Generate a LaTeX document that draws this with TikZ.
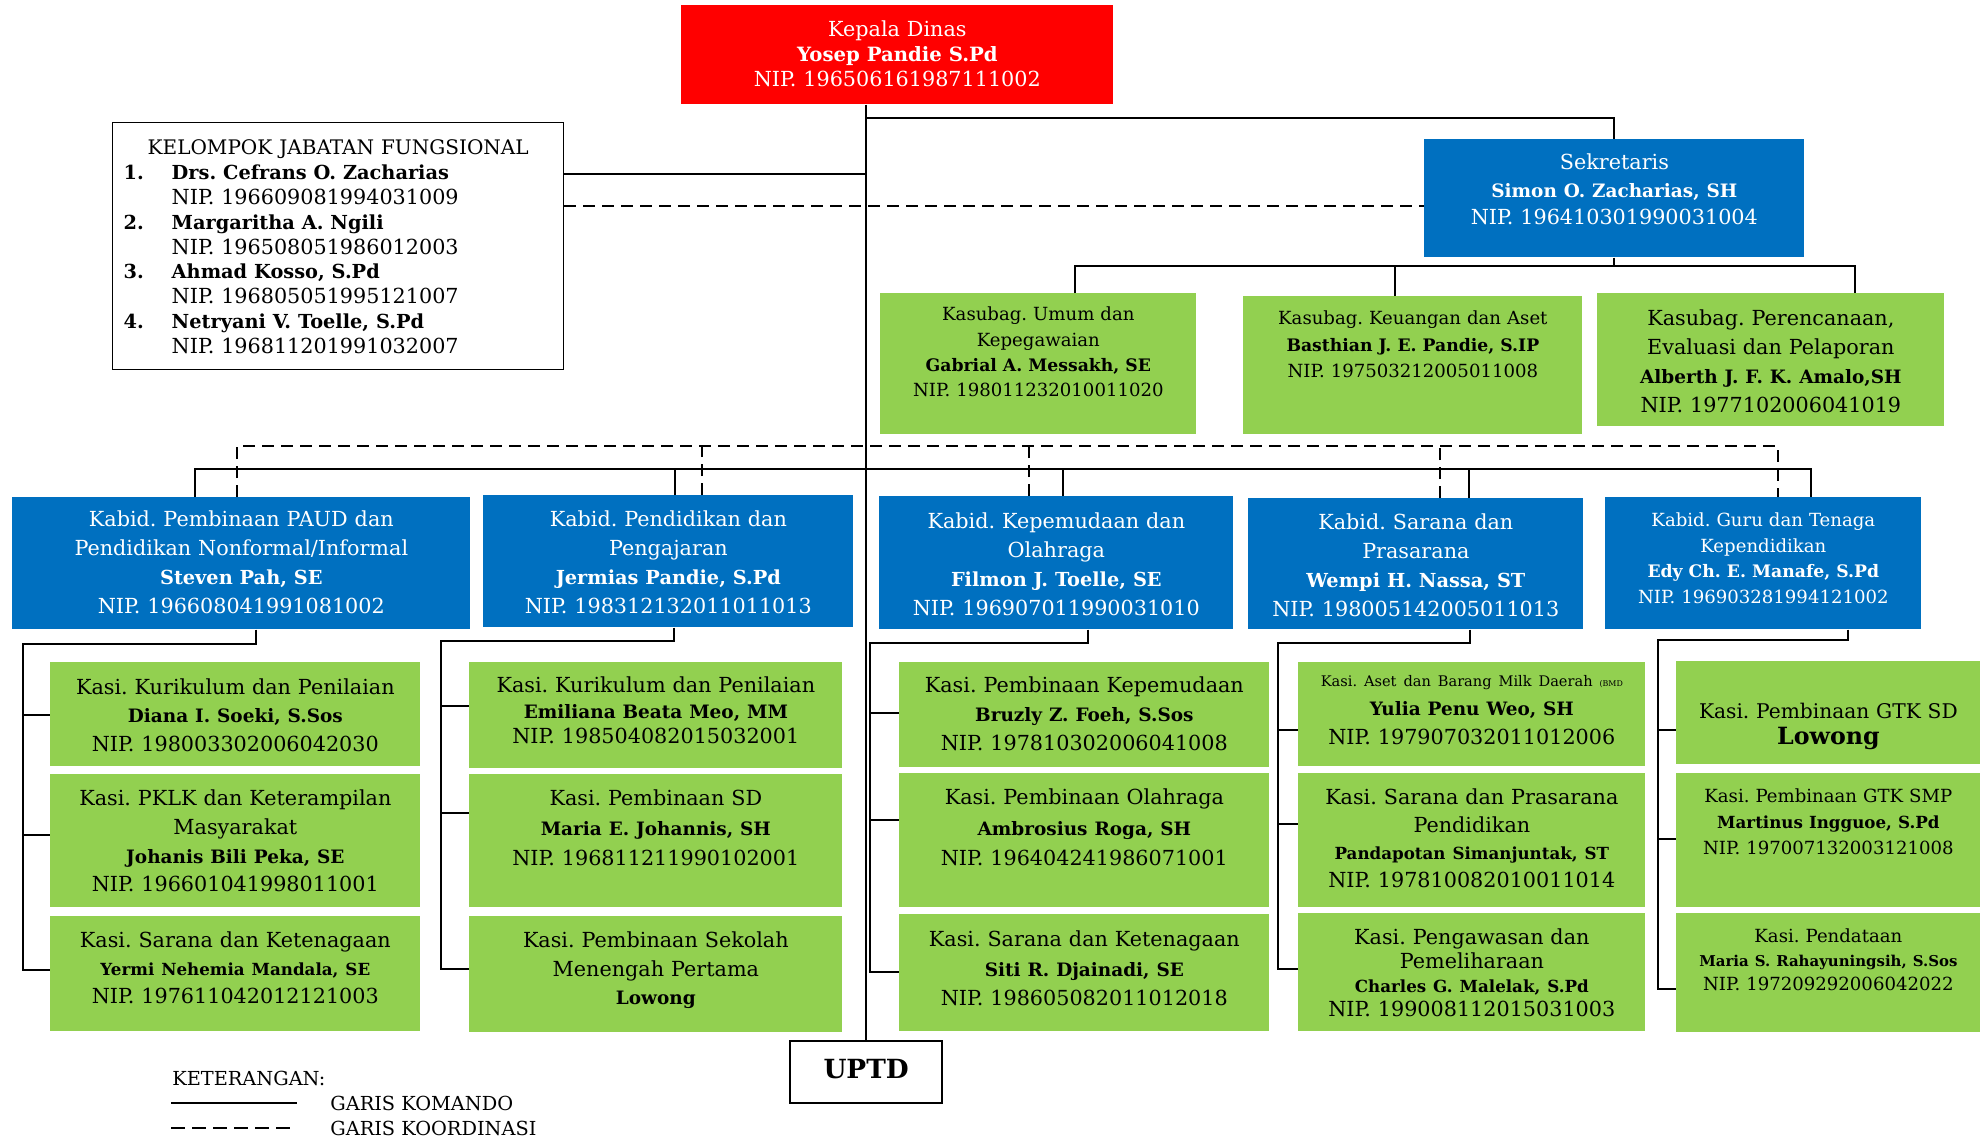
\documentclass[tikz,border=0pt]{standalone}
\usepackage{fontspec}
\setmainfont{DejaVu Serif}
\frenchspacing

\definecolor{merah}{HTML}{FF0000}
\definecolor{biru}{HTML}{0070C0}
\definecolor{hijau}{HTML}{92D050}

\newcommand{\fsz}[2]{\fontsize{#1}{#2}\selectfont}
\newcommand{\nama}[1]{{\fontsize{10.5}{10}\bfseries\selectfont #1}}
\newcommand{\namasz}[2]{{\fontsize{#1}{10}\bfseries\selectfont #2}}

\tikzset{
  orgbox/.style={rectangle, inner sep=0pt, anchor=north west, align=center},
  boxdim/.style n args={3}{text width=#1, text height=#2, text depth=#3},
  kepalabox/.style={orgbox, fill=merah, text=white, font=\fsz{11.8}{14.2}},
  kabidbox/.style={orgbox, fill=biru, text=white, font=\fsz{11.8}{16.5}},
  kasibox/.style={orgbox, fill=hijau, font=\fsz{11.8}{16.2}},
  fungsibox/.style={orgbox, draw, line width=0.8pt, font=\fsz{11.8}{14.2}, align=left, inner xsep=2.2mm},
  legendtext/.style={anchor=west, inner sep=0pt, font=\fsz{11}{14}},
  komando/.style={line width=1.1pt},
  koordinasi/.style={line width=1.1pt, dash pattern=on 2.4mm off 1.4mm},
}

\begin{document}
\begin{tikzpicture}[x=0.2mm, y=-0.2mm]
    \useasboundingbox (0,0) rectangle (1986,1139);

    % PIMPINAN
    \node[kepalabox, boxdim={86.4mm}{6.3mm}{13.5mm}] (kepala) at (681,5) {Kepala Dinas\\ \namasz{11.2}{Yosep Pandie S.Pd}\\ NIP. 196506161987111002};
    \node[fungsibox, boxdim={85.8mm}{6.3mm}{43.1mm}] (fungsional) at (112,122) {\makebox[85.8mm][c]{\fsz{11.4}{14.2}KELOMPOK JABATAN FUNGSIONAL}\\
        \makebox[9.6mm][l]{\namasz{11}{1.}}\namasz{11}{Drs. Cefrans O. Zacharias}\\
        \hspace*{9.6mm}NIP. 196609081994031009\\
        \makebox[9.6mm][l]{\namasz{11}{2.}}\namasz{11}{Margaritha A. Ngili}\\
        \hspace*{9.6mm}NIP. 196508051986012003\\
        \makebox[9.6mm][l]{\namasz{11}{3.}}\namasz{11}{Ahmad Kosso, S.Pd}\\
        \hspace*{9.6mm}NIP. 196805051995121007\\
        \makebox[9.6mm][l]{\namasz{11}{4.}}\namasz{11}{Netryani V. Toelle, S.Pd}\\
        \hspace*{9.6mm}NIP. 196811201991032007};
    \node[kabidbox, boxdim={76mm}{6.1mm}{17.5mm}, font=\fsz{11.8}{15.5}] (sekretaris) at (1424,139) {Sekretaris\\ \nama{Simon O. Zacharias, SH}\\ NIP. 196410301990031004};

    % SUBBAGIAN
    \node[kasibox, boxdim={63.2mm}{5.5mm}{22.7mm}, font=\fsz{10.3}{14.4}] (umum) at (880,293) {Kasubag. Umum dan\\ Kepegawaian\\ \namasz{9.8}{Gabrial A. Messakh, SE}\\ NIP. 198011232010011020};
    \node[kasibox, boxdim={67.8mm}{5.7mm}{21.9mm}, font=\fsz{10.3}{15.1}] (keuangan) at (1243,296) {Kasubag. Keuangan dan Aset\\ \namasz{9.8}{Basthian J. E. Pandie, S.IP}\\ NIP. 197503212005011008};
    \node[kasibox, boxdim={69.4mm}{6.5mm}{20.1mm}, font=\fsz{11.8}{16.5}] (perencanaan) at (1597,293) {Kasubag. Perencanaan,\\ Evaluasi dan Pelaporan\\ \nama{Alberth J. F. K. Amalo,SH}\\ NIP. 1977102006041019};

    % BIDANG
    \node[kabidbox, boxdim={91.6mm}{5.9mm}{20.5mm}] (paud) at (12,497) {Kabid. Pembinaan PAUD dan\\ Pendidikan Nonformal/Informal\\ \namasz{11}{Steven Pah, SE}\\ NIP. 196608041991081002};
    \node[kabidbox, boxdim={74mm}{6.3mm}{20.1mm}] (dikjar) at (483,495) {Kabid. Pendidikan dan\\ Pengajaran\\ \namasz{11}{Jermias Pandie, S.Pd}\\ NIP. 198312132011011013};
    \node[kabidbox, boxdim={70.8mm}{6.4mm}{20.2mm}] (pora) at (879,496) {Kabid. Kepemudaan dan\\ Olahraga\\ \namasz{11}{Filmon J. Toelle, SE}\\ NIP. 196907011990031010};
    \node[kabidbox, boxdim={67mm}{6.3mm}{19.9mm}] (sarpras) at (1248,498) {Kabid. Sarana dan\\ Prasarana\\ \namasz{11}{Wempi H. Nassa, ST}\\ NIP. 198005142005011013};
    \node[kabidbox, boxdim={63.2mm}{5.8mm}{20.6mm}, font=\fsz{10.3}{14.6}] (gtk) at (1605,497) {Kabid. Guru dan Tenaga\\ Kependidikan\\ \namasz{9.8}{Edy Ch. E. Manafe, S.Pd}\\ NIP. 196903281994121002};

    % SEKSI PAUD
    \node[kasibox, boxdim={74mm}{6.4mm}{14.4mm}] (paud1) at (50,662) {Kasi. Kurikulum dan Penilaian\\ \nama{Diana I. Soeki, S.Sos}\\ NIP. 198003302006042030};
    \node[kasibox, boxdim={74mm}{6.3mm}{20.3mm}, font=\fsz{11.8}{16.3}] (paud2) at (50,774) {Kasi. PKLK dan Keterampilan\\ Masyarakat\\ \nama{Johanis Bili Peka, SE}\\ NIP. 196601041998011001};
    \node[kasibox, boxdim={74mm}{6.3mm}{16.7mm}, font=\fsz{11.8}{15.8}] (paud3) at (50,916) {Kasi. Sarana dan Ketenagaan\\ \namasz{9.5}{Yermi Nehemia Mandala, SE}\\ NIP. 197611042012121003};

    % SEKSI DIKJAR
    \node[kasibox, boxdim={74.6mm}{6.1mm}{15.1mm}, font=\fsz{11.8}{14.4}] (dikjar1) at (469,662) {Kasi. Kurikulum dan Penilaian\\ \nama{Emiliana Beata Meo, MM}\\ NIP. 198504082015032001};
    \node[kasibox, boxdim={74.6mm}{6.3mm}{20.3mm}, font=\fsz{11.8}{16.9}] (dikjar2) at (469,774) {Kasi. Pembinaan SD\\ \nama{Maria E. Johannis, SH}\\ NIP. 196811211990102001};
    \node[kasibox, boxdim={74.6mm}{6.3mm}{16.9mm}] (dikjar3) at (469,916) {Kasi. Pembinaan Sekolah\\ Menengah Pertama\\ \nama{Lowong}};

    % SEKSI PORA
    \node[kasibox, boxdim={74mm}{6.1mm}{14.9mm}, font=\fsz{11.8}{16.5}] (pora1) at (899,662) {Kasi. Pembinaan Kepemudaan\\ \nama{Bruzly Z. Foeh, S.Sos}\\ NIP. 197810302006041008};
    \node[kasibox, boxdim={74mm}{6.3mm}{20.5mm}, font=\fsz{11.8}{17.2}] (pora2) at (899,773) {Kasi. Pembinaan Olahraga\\ \nama{Ambrosius Roga, SH}\\ NIP. 196404241986071001};
    \node[kasibox, boxdim={74mm}{6.4mm}{17mm}, font=\fsz{11.8}{16.9}] (pora3) at (899,914) {Kasi. Sarana dan Ketenagaan\\ \nama{Siti R. Djainadi, SE}\\ NIP. 198605082011012018};

    % SEKSI SARPRAS
    \node[kasibox, boxdim={69.4mm}{4.9mm}{15.9mm}, font=\fsz{11.8}{16.5}] (sarpras1) at (1298,662) {{\fsz{8.3}{10}Kasi. Aset dan Barang Milk Daerah {\fsz{4.5}{5}(BMD}}\\ \nama{Yulia Penu Weo, SH}\\ NIP. 197907032011012006};
    \node[kasibox, boxdim={69.4mm}{6.3mm}{20.5mm}, font=\fsz{11.8}{15.6}] (sarpras2) at (1298,773) {Kasi. Sarana dan Prasarana\\ Pendidikan\\ \namasz{9.5}{Pandapotan Simanjuntak, ST}\\ NIP. 197810082010011014};
    \node[kasibox, boxdim={69.4mm}{6.3mm}{17.3mm}, font=\fsz{11.8}{13.6}] (sarpras3) at (1298,913) {Kasi. Pengawasan dan\\ Pemeliharaan\\ \namasz{9.5}{Charles G. Malelak, S.Pd}\\ NIP. 199008112015031003};

    % SEKSI GTK
    \node[kasibox, boxdim={60.8mm}{11.4mm}{9.2mm}, font=\fsz{11.5}{15}] (gtk1) at (1676,661) {Kasi. Pembinaan GTK SD\\ \namasz{13.5}{Lowong}};
    \node[kasibox, boxdim={60.8mm}{5.8mm}{21mm}, font=\fsz{10.3}{14.7}] (gtk2) at (1676,773) {Kasi. Pembinaan GTK SMP\\ \namasz{9.5}{Martinus Ingguoe, S.Pd}\\ NIP. 197007132003121008};
    \node[kasibox, boxdim={60.8mm}{5.9mm}{17.9mm}, font=\fsz{10.3}{13.6}] (gtk3) at (1676,913) {Kasi. Pendataan\\ \namasz{8.5}{Maria S. Rahayuningsih, S.Sos}\\ NIP. 197209292006042022};

    \node[orgbox, draw, line width=1.3pt, boxdim={30.4mm}{7.5mm}{4.9mm}, font=\fsz{15}{18}\bfseries] (uptd) at (789,1040) {UPTD};

    % GARIS KOMANDO
    \draw[komando] (kepala.south -| uptd.north) -- (uptd.north);
    \draw[komando] (fungsional.east |- 0,174) -- (uptd.north |- 0,174);
    \draw[komando] (uptd.north |- 0,118) -| (sekretaris.north);
    \draw[komando] (sekretaris.south) -- (sekretaris.south |- 0,266);
    \draw[komando] (umum.north -| 1075,0) -- (1075,266) -- (1855,266) -- (perencanaan.north -| 1855,0);
    \draw[komando] (keuangan.north -| 1395,0) -- (1395,266);

    \draw[komando] (paud.north -| 195,0) -- (195,469) -- (1811,469) -- (gtk.north -| 1811,0);
    \draw[komando] (dikjar.north -| 675,0) -- (675,469);
    \draw[komando] (pora.north -| 1063,0) -- (1063,469);
    \draw[komando] (sarpras.north -| 1469,0) -- (1469,469);

    \draw[komando] (paud.south -| 256,0) |- (23,644) |- (paud3.west |- 0,970);
    \draw[komando] (23,715) -- (paud1.west |- 0,715);
    \draw[komando] (23,835) -- (paud2.west |- 0,835);

    \draw[komando] (dikjar.south -| 674,0) |- (441,641) |- (dikjar3.west |- 0,969);
    \draw[komando] (441,706) -- (dikjar1.west |- 0,706);
    \draw[komando] (441,813) -- (dikjar2.west |- 0,813);

    \draw[komando] (pora.south -| 1088,0) |- (870,643) |- (pora3.west |- 0,972);
    \draw[komando] (870,713) -- (pora1.west |- 0,713);
    \draw[komando] (870,820) -- (pora2.west |- 0,820);

    \draw[komando] (sarpras.south -| 1470,0) |- (1278,643) |- (sarpras3.west |- 0,969);
    \draw[komando] (1278,730) -- (sarpras1.west |- 0,730);
    \draw[komando] (1278,824) -- (sarpras2.west |- 0,824);

    \draw[komando] (gtk.south -| 1848,0) |- (1658,640) |- (gtk3.west |- 0,989);
    \draw[komando] (1658,730) -- (gtk1.west |- 0,730);
    \draw[komando] (1658,839) -- (gtk2.west |- 0,839);

    % GARIS KOORDINASI
    \draw[koordinasi] (fungsional.east |- 0,206) -- (sekretaris.west |- 0,206);
    \draw[koordinasi] (paud.north -| 237,0) -- (237,446) -- (1778,446) -- (gtk.north -| 1778,0);
    \draw[koordinasi] (dikjar.north -| 702,0) -- (702,446);
    \draw[koordinasi] (pora.north -| 1029,0) -- (1029,446);
    \draw[koordinasi] (sarpras.north -| 1440,0) -- (1440,446);

    % KETERANGAN
    \node[legendtext] (keterangan) at (172,1078) {KETERANGAN:};
    \coordinate (komA) at (171,1103);
    \coordinate (komB) at (297,1103);
    \draw[komando] (komA) -- (komB);
    \node[legendtext] (komandotext) at (330,1103) {GARIS KOMANDO};
    \coordinate (korA) at (171,1128);
    \coordinate (korB) at (297,1128);
    \draw[koordinasi, dash pattern=on 2.8mm off 1.4mm] (korA) -- (korB);
    \node[legendtext] (koordtext) at (330,1128) {GARIS KOORDINASI};
\end{tikzpicture}
\end{document}
